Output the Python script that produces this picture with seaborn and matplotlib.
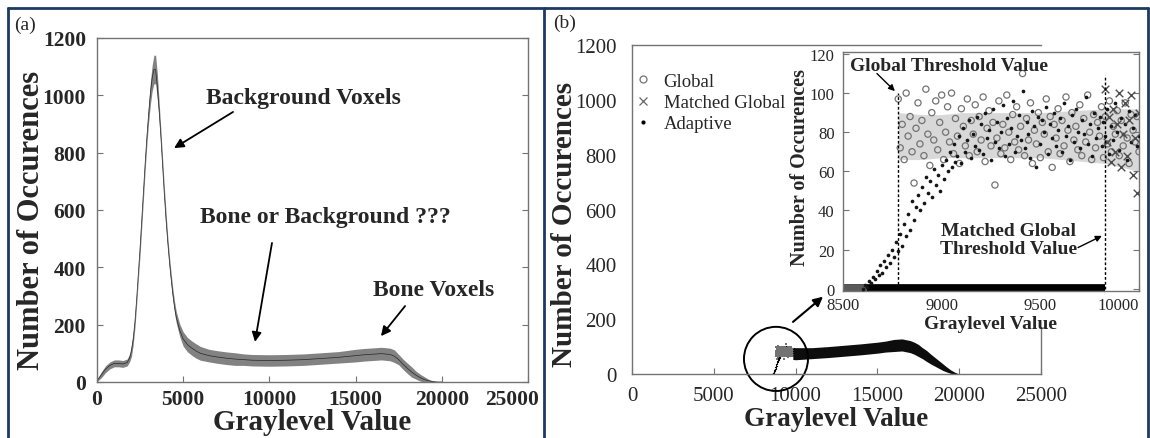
import matplotlib.pyplot as plt
import matplotlib.transforms as mtransforms
import numpy as np
import seaborn as sns
from matplotlib.lines import Line2D
from matplotlib.patches import Ellipse

# ---- (a) full histogram: band centre and half-spread ----
a_gray = [0, 250, 500, 750, 1000, 1250, 1500, 1750, 1900, 2000, 2100, 2200,
          2300, 2400, 2500, 2600, 2700, 2800, 2900, 3000, 3100, 3200, 3300,
          3400, 3500, 3600, 3700, 3800, 3900, 4000, 4100, 4200, 4300, 4400,
          4500, 4600, 4800, 5000, 5250, 5500, 5750, 6000, 6500, 7000, 7500,
          8000, 8500, 9000, 10000, 11000, 12000, 13000, 14000, 15000, 15500,
          16000, 16500, 17000, 17250, 17500, 17750, 18000, 18250, 18500,
          18750, 19000, 19250, 19500, 19750, 20000]
a_count = [5, 25, 45, 58, 65, 65, 63, 68, 85, 110, 150, 210,
           290, 380, 470, 570, 670, 770, 860, 940, 1010, 1060, 1090,
           1090, 1030, 950, 860, 760, 660, 570, 490, 420, 360, 305,
           260, 225, 180, 150, 130, 118, 108, 100, 92, 87, 83,
           80, 78, 76, 75, 76, 78, 82, 86, 92, 95,
           97, 99, 96, 90, 78, 62, 48, 35, 24,
           15, 8, 4, 1, 0, 0]
a_spread = [4, 10, 12, 12, 12, 12, 12, 12, 14, 20, 20, 20,
            20, 20, 25, 25, 25, 25, 25, 30, 40, 45, 50,
            50, 45, 30, 25, 25, 25, 25, 20, 20, 20, 20,
            20, 20, 22, 25, 25, 25, 25, 24, 22, 22, 22,
            22, 20, 20, 20, 20, 20, 20, 20, 22, 22,
            22, 22, 22, 22, 18, 18, 18, 18, 14,
            12, 10, 5, 3, 1, 0]

# ---- (b) thresholded histogram beyond the matched threshold ----
b_gray = [9830, 10000, 11000, 12000, 13000, 14000, 15000, 15500, 16000,
          16500, 17000, 17250, 17500, 17750, 18000, 18250, 18500, 18750,
          19000, 19250, 19500, 19750, 20000]
b_count = [75, 74, 76, 80, 85, 90, 96, 100, 104,
           106, 100, 94, 86, 76, 66, 55, 45, 35,
           25, 16, 8, 3, 0]
b_spread = [22, 22, 20, 20, 20, 20, 20, 20, 22,
            22, 22, 22, 22, 20, 20, 18, 16, 14,
            12, 9, 6, 3, 0]

# ---- inset, graylevel 8500-10000 ----
global_thr = 8780
matched_thr = 9830
global_gray = np.arange(8780, 10001, 10)
global_count = [97, 72, 84, 66, 100, 78, 88, 70, 54, 82,
                95, 74, 86, 68, 102, 79, 63, 90, 76, 96,
                71, 85, 99, 66, 80, 93, 75, 100, 69, 87,
                78, 64, 92, 83, 73, 97, 68, 86, 79, 94,
                70, 88, 76, 98, 65, 82, 91, 73, 85, 53,
                77, 96, 69, 84, 72, 99, 80, 66, 89, 75,
                93, 71, 83, 110, 68, 87, 76, 95, 64, 81,
                74, 90, 67, 85, 79, 97, 70, 88, 62, 84,
                77, 92, 69, 86, 73, 98, 81, 65, 90, 76,
                83, 71, 94, 68, 87, 75, 99, 80, 66, 89,
                72, 85, 78, 93, 67, 88, 74, 96, 70, 83,
                79, 91, 68, 86, 73, 95, 77, 64, 89, 81,
                75, 88, 70]
adaptive_gray = np.arange(8600, 10001, 10)
adaptive_count = [0, 2, 1, 4, 3, 6, 5, 9, 7, 12,
                  8, 14, 11, 17, 13, 20, 16, 24, 19, 28,
                  22, 33, 27, 38, 30, 45, 35, 42, 48, 40,
                  52, 44, 57, 49, 55, 47, 61, 53, 58, 50,
                  63, 56, 66, 60, 70, 62, 74, 65, 68, 78,
                  64, 82, 70, 76, 86, 67, 79, 73, 88, 71,
                  84, 69, 90, 77, 81, 66, 92, 75, 85, 72,
                  80, 94, 68, 87, 74, 82, 96, 70, 78, 89,
                  76, 101, 72, 85, 79, 67, 91, 83, 62, 88,
                  74, 86, 80, 93, 69, 84, 77, 90, 73, 81,
                  87, 70, 95, 78, 83, 66, 89, 75, 92, 80,
                  72, 86, 79, 98, 74, 84, 68, 90, 77, 82,
                  88, 73, 85, 78, 92, 69, 83, 76, 95, 80,
                  71, 87, 79, 84, 66, 91, 75, 82, 89, 73,
                  78]
matched_gray = np.arange(9830, 10001, 10)
matched_count = [102, 75, 88, 65, 92, 70, 84, 100, 62, 79,
                 95, 68, 86, 99, 58, 77, 49, 90]
# dense core of the overlapping cloud in the inset
core_gray = [8780, 8900, 9000, 9100, 9500, 9830, 10000]
core_lo = [66, 66, 67, 67, 67, 64, 60]
core_hi = [90, 89, 89, 90, 90, 92, 92]

sns.set_style("ticks")
plt.rcParams['font.family'] = ['Liberation Serif', 'DejaVu Serif']

W, H = 1150, 439
fig = plt.figure(figsize=(W / 100, H / 100), dpi=100)


def box(l, t, r, b):
    return [l / W, 1 - b / H, (r - l) / W, (b - t) / H]


spine_col = '0.45'

# ================= panel (a) =================
ax_a = fig.add_axes(box(97, 39, 528, 383))
lo = np.array(a_count) - np.array(a_spread)
hi = np.array(a_count) + np.array(a_spread)
ax_a.fill_between(a_gray, np.clip(lo, 0, None), hi, color='0.3', lw=0, alpha=0.7)
sns.lineplot(x=a_gray, y=a_count, ax=ax_a, color='0.15', lw=0.5)
ax_a.set_xlim(0, 25000)
ax_a.set_ylim(0, 1200)
ax_a.set_xticks(range(0, 25001, 5000))
ax_a.set_yticks(range(0, 1201, 200))
ax_a.tick_params(direction='in', length=4, width=0.8, color=spine_col,
                 labelsize=15.5, right=True, pad=8)
ax_a.tick_params(axis='x', pad=5)
plt.setp(ax_a.get_xticklabels() + ax_a.get_yticklabels(), fontweight='bold')
last = ax_a.get_xticklabels()[-1]
last.set_transform(last.get_transform() +
                   mtransforms.ScaledTranslation(-16 / 100, 0, fig.dpi_scale_trans))
for s in ax_a.spines.values():
    s.set_color(spine_col)
    s.set_linewidth(1.0)
ax_a.set_xlabel('Graylevel Value', fontsize=21, fontweight='bold')
ax_a.set_ylabel('Number of Occurences', fontsize=22, fontweight='bold')
ax_a.xaxis.set_label_coords(0.5, -0.075)
ax_a.yaxis.set_label_coords(-0.118, 0.474)

arrow = dict(arrowstyle='-|>', color='black', lw=1.3, mutation_scale=14,
             shrinkA=0, shrinkB=0)
ax_a.text(11950, 994, 'Background Voxels', fontsize=17, fontweight='bold',
          ha='center', va='center')
ax_a.annotate('', xy=(4470, 816), xytext=(7890, 942), arrowprops=arrow)
ax_a.text(13230, 576, 'Bone or Background ???', fontsize=17, fontweight='bold',
          ha='center', va='center')
ax_a.annotate('', xy=(9165, 140), xytext=(10150, 485), arrowprops=arrow)
ax_a.text(19550, 324, 'Bone Voxels', fontsize=17, fontweight='bold',
          ha='center', va='center')
ax_a.annotate('', xy=(16470, 160), xytext=(17870, 265), arrowprops=arrow)

# ================= panel (b) =================
ax_b = fig.add_axes(box(632, 46, 1041, 375))
sns.scatterplot(x=adaptive_gray, y=adaptive_count, ax=ax_b, marker='.',
                s=3, color='black', linewidth=0)
sns.scatterplot(x=global_gray[global_gray < matched_thr],
                y=np.array(global_count)[global_gray < matched_thr], ax=ax_b,
                marker='s', s=4, color='0.45', linewidth=0)
b_lo = np.array(b_count) - np.array(b_spread)
b_hi = np.array(b_count) + np.array(b_spread)
ax_b.fill_between(b_gray, np.clip(b_lo, 0, None), b_hi, color='0.05', lw=0)
ax_b.set_xlim(0, 25000)
ax_b.set_ylim(0, 1200)
ax_b.set_xticks(range(0, 25001, 5000))
ax_b.set_yticks(range(0, 1201, 200))
ax_b.tick_params(direction='in', length=4, width=0.8, color=spine_col,
                 labelsize=15, pad=9)
ax_b.tick_params(axis='y', length=0, pad=11)
for s in ax_b.spines.values():
    s.set_color(spine_col)
    s.set_linewidth(1.0)
ax_b.spines['right'].set_bounds(0, 165)
ax_b.set_xlabel('Graylevel Value', fontsize=19.5, fontweight='bold')
ax_b.set_ylabel('Number of Occurences', fontsize=21, fontweight='bold')
ax_b.xaxis.set_label_coords(0.5, -0.098)
ax_b.yaxis.set_label_coords(-0.132, 0.457)

# magnifier circle and arrow
ax_b.add_patch(Ellipse((8800, 55), 3912, 234, fill=False, ec='black',
                       lw=1.4, clip_on=False))
ax_b.annotate('', xy=(11675, 282), xytext=(9840, 190),
              arrowprops=dict(arrowstyle='-|>', color='black', lw=1.5,
                              mutation_scale=14, shrinkA=0, shrinkB=0),
              annotation_clip=False)

handles = [
    Line2D([], [], marker='o', ls='none', mfc='none', mec='0.45', ms=5, mew=0.9),
    Line2D([], [], marker='x', ls='none', mec='0.4', ms=6, mew=0.9),
    Line2D([], [], marker='.', ls='none', color='black', ms=4),
]
ax_b.legend(handles, ['Global', 'Matched Global', 'Adaptive'], loc='upper left',
            bbox_to_anchor=(-0.028, 0.95), frameon=False, fontsize=13.5,
            handlelength=1.2, handletextpad=0.5, labelspacing=0.22,
            borderaxespad=0.2)

# ================= inset =================
ax_i = fig.add_axes(box(843, 53, 1139, 292))
ax_i.set_facecolor('white')
ax_i.fill_between(core_gray, core_lo, core_hi, color='0.5', alpha=0.3, lw=0, zorder=1)
ax_i.hlines(0, 8500, matched_thr, color='black', lw=7, zorder=2)
ax_i.hlines(0, 8500, adaptive_gray[0] + 20, color='0.35', lw=7, zorder=2)
sns.scatterplot(x=global_gray, y=global_count, ax=ax_i, marker='o', s=20,
                facecolors='none', edgecolor='0.45', linewidth=0.9, zorder=3)
sns.scatterplot(x=adaptive_gray, y=adaptive_count, ax=ax_i, marker='o', s=7,
                color='0.08', linewidth=0, zorder=4)
sns.scatterplot(x=matched_gray, y=matched_count, ax=ax_i, marker='x', s=30,
                color='0.3', linewidth=1.0, zorder=4)
ax_i.vlines(global_thr, 0, 100, color='black', lw=1, linestyles=(0, (2, 1.5)), zorder=5)
ax_i.vlines(matched_thr, 0, 109, color='black', lw=1, linestyles=(0, (2, 1.5)), zorder=5)
ax_i.set_xlim(8500, 10000)
ax_i.set_ylim(-1.2, 121)
ax_i.set_xticks([8500, 9000, 9500, 10000])
ax_i.set_yticks(range(0, 121, 20))
ax_i.tick_params(direction='in', length=4, width=0.8, color=spine_col,
                 labelsize=12, right=True, pad=6)
ax_i.tick_params(axis='x', pad=4)
ax_i.get_xticklabels()[-1].set_ha('right')
for s in ax_i.spines.values():
    s.set_color(spine_col)
    s.set_linewidth(1.0)
ax_i.set_xlabel('Graylevel Value', fontsize=14, fontweight='bold')
ax_i.set_ylabel('Number of Occurences', fontsize=14.5, fontweight='bold')
ax_i.xaxis.set_label_coords(0.5, -0.1)
ax_i.yaxis.set_label_coords(-0.112, 0.519)

small_arrow = dict(arrowstyle='-|>', color='black', lw=1.0, mutation_scale=9,
                   shrinkA=0, shrinkB=0)
ax_i.text(8535, 114, 'Global Threshold Value', fontsize=14, fontweight='bold',
          ha='left', va='center', zorder=6)
ax_i.annotate('', xy=(8763, 101), xytext=(8672, 110), arrowprops=small_arrow)
ax_i.text(9341, 25, 'Matched Global\nThreshold Value', fontsize=14,
          fontweight='bold', ha='center', va='center', linespacing=1.05)
ax_i.annotate('', xy=(9812, 27), xytext=(9691, 21), arrowprops=small_arrow)

# ================= panel frames and tags =================
frame = '#1d3a63'
for (x0, y0, x1, y1) in [(8, 9, 1148, 9), (8, 9, 8, 439), (544, 9, 544, 439),
                         (1148, 9, 1148, 439)]:
    fig.add_artist(Line2D([x0 / W, x1 / W], [1 - y0 / H, 1 - y1 / H],
                          transform=fig.transFigure, color=frame, lw=2))
fig.text(14 / W, 1 - 25 / H, '(a)', fontsize=14, va='center')
fig.text(553 / W, 1 - 23 / H, '(b)', fontsize=14, va='center')

fig.savefig('out.png', dpi=100)
